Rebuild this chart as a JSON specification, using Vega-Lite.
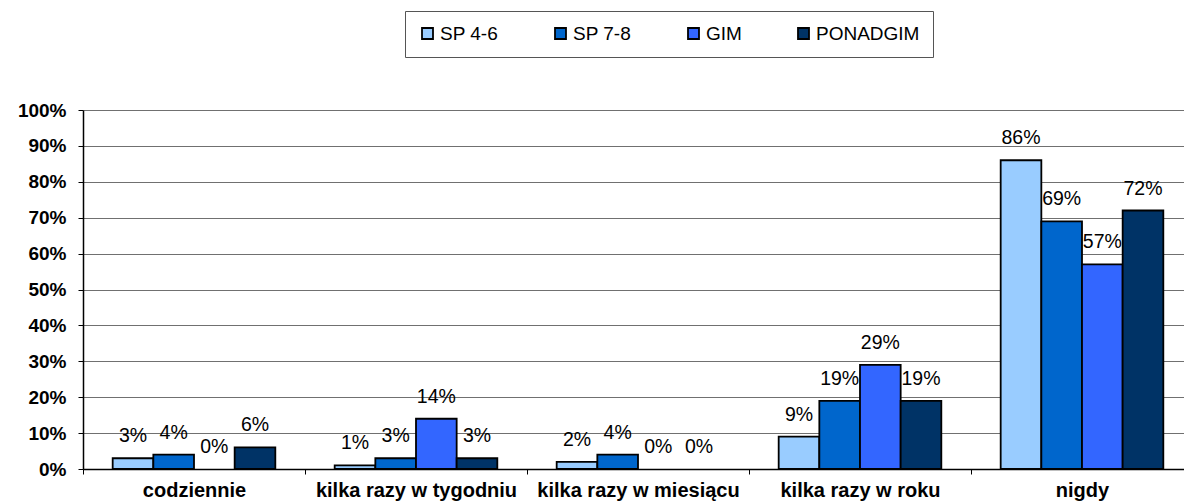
{
  "$schema": "https://vega.github.io/schema/vega-lite/v6.json",
  "autosize": "none",
  "width": 1110,
  "height": 359,
  "padding": {"left": 83, "top": 110, "right": -9, "bottom": 35},
  "background": "white",
  "config": {"view": {"stroke": null}, "font": "Liberation Sans"},
  "data": {"values": [
    {"cat": "codziennie", "grp": "SP 4-6", "v": 0.03},
    {"cat": "codziennie", "grp": "SP 7-8", "v": 0.04},
    {"cat": "codziennie", "grp": "GIM", "v": 0},
    {"cat": "codziennie", "grp": "PONADGIM", "v": 0.06},
    {"cat": "kilka razy w tygodniu", "grp": "SP 4-6", "v": 0.01},
    {"cat": "kilka razy w tygodniu", "grp": "SP 7-8", "v": 0.03},
    {"cat": "kilka razy w tygodniu", "grp": "GIM", "v": 0.14},
    {"cat": "kilka razy w tygodniu", "grp": "PONADGIM", "v": 0.03},
    {"cat": "kilka razy w miesiącu", "grp": "SP 4-6", "v": 0.02},
    {"cat": "kilka razy w miesiącu", "grp": "SP 7-8", "v": 0.04},
    {"cat": "kilka razy w miesiącu", "grp": "GIM", "v": 0},
    {"cat": "kilka razy w miesiącu", "grp": "PONADGIM", "v": 0},
    {"cat": "kilka razy w roku", "grp": "SP 4-6", "v": 0.09},
    {"cat": "kilka razy w roku", "grp": "SP 7-8", "v": 0.19},
    {"cat": "kilka razy w roku", "grp": "GIM", "v": 0.29},
    {"cat": "kilka razy w roku", "grp": "PONADGIM", "v": 0.19},
    {"cat": "nigdy", "grp": "SP 4-6", "v": 0.86},
    {"cat": "nigdy", "grp": "SP 7-8", "v": 0.69},
    {"cat": "nigdy", "grp": "GIM", "v": 0.57},
    {"cat": "nigdy", "grp": "PONADGIM", "v": 0.72}
  ]},
  "encoding": {
    "x": {"field": "cat", "type": "nominal", "sort": null,
      "scale": {"paddingInner": 0, "paddingOuter": 0},
      "axis": {"title": null, "labelAngle": 0, "labelFont": "Liberation Sans", "labelFontWeight": "bold", "labelFontSize": 20, "labelColor": "#000", "labelPadding": 6, "domainColor": "#000", "domainWidth": 1.5, "tickColor": "#000", "tickSize": 5, "tickBand": "extent", "labelLimit": 300}},
    "xOffset": {"field": "grp", "type": "nominal", "sort": ["SP 4-6", "SP 7-8", "GIM", "PONADGIM"],
      "scale": {"domain": ["SP 4-6", "SP 7-8", "GIM", "PONADGIM"], "paddingInner": 0, "paddingOuter": 0.73}},
    "y": {"field": "v", "type": "quantitative",
      "scale": {"domain": [0, 1], "nice": false},
      "axis": {"title": null, "values": [0,0.1,0.2,0.3,0.4,0.5,0.6,0.7,0.8,0.9,1], "format": ".0%", "labelFont": "Liberation Sans", "labelFontWeight": "bold", "labelFontSize": 19, "labelColor": "#000", "labelPadding": 12, "tickSize": 5, "tickColor": "#000", "domainColor": "#000", "domainWidth": 1.5, "grid": true, "gridColor": "#707070", "gridWidth": 1.2}}
  },
  "layer": [
    {"transform": [{"filter": "datum.v > 0"}],
     "mark": {"type": "bar", "stroke": "#000", "strokeWidth": 1.8},
     "encoding": {
       "color": {"field": "grp", "type": "nominal", "sort": ["SP 4-6", "SP 7-8", "GIM", "PONADGIM"],
         "scale": {"domain": ["SP 4-6", "SP 7-8", "GIM", "PONADGIM"], "range": ["#99CCFF", "#0066CC", "#3366FF", "#003366"]},
         "legend": {"title": null, "orient": "none", "legendX": 322, "legendY": -99, "direction": "horizontal", "columns": 4,
           "symbolType": "square", "symbolSize": 121, "symbolStrokeColor": "#000", "symbolStrokeWidth": 1.8, "symbolOpacity": 1,
           "labelFont": "Liberation Sans", "labelFontSize": 19, "labelColor": "#000", "labelOffset": 3,
           "columnPadding": 52, "padding": 13, "strokeColor": "#555", "fillColor": "white",
           "gridAlign": "none"}}
     }},
    {"mark": {"type": "text", "baseline": "alphabetic", "dy": -16, "font": "Liberation Sans", "fontSize": 19.5, "color": "#000"},
     "encoding": {"text": {"field": "v", "type": "quantitative", "format": ".0%"}, "detail": {"field": "grp"}}}
  ]
}
